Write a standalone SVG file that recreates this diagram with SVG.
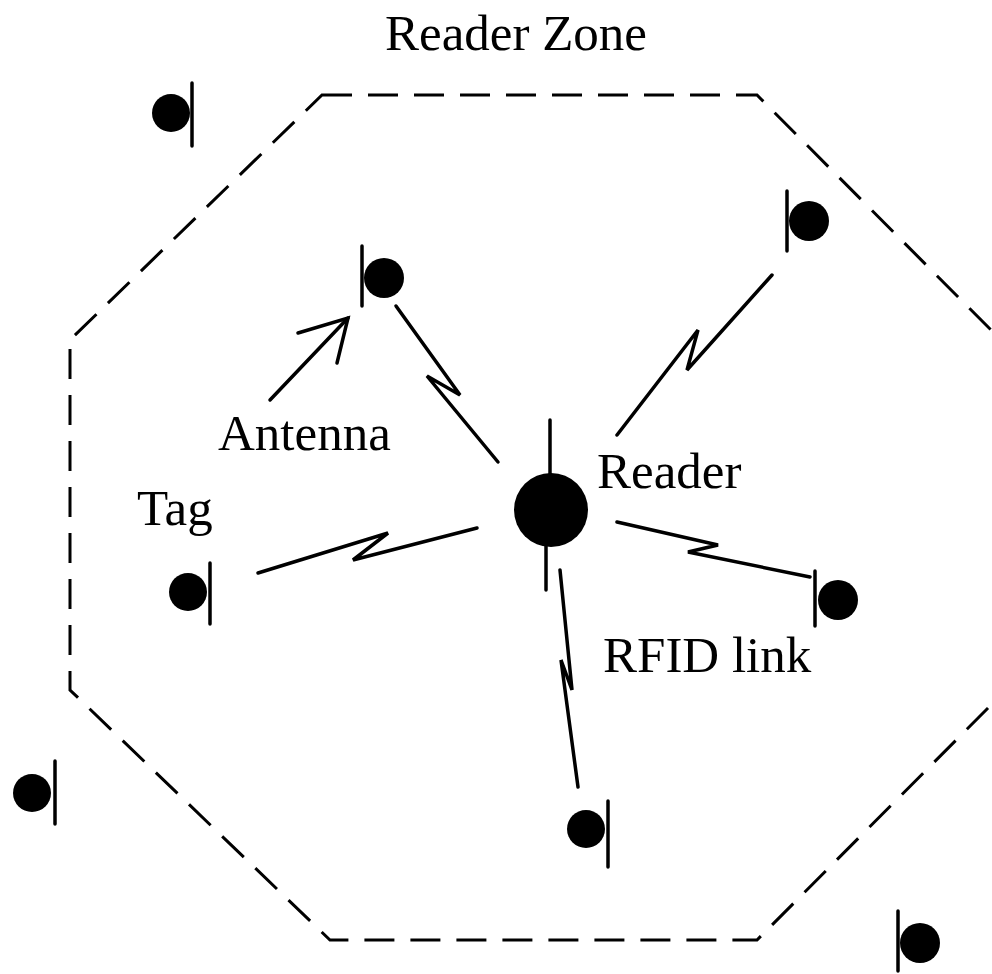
<svg xmlns="http://www.w3.org/2000/svg" width="992" height="974" viewBox="0 0 992 974">
  <style>
    .zone { fill: none; stroke: #000; stroke-width: 3; stroke-dasharray: 30 16; }
    .body { fill: #000; }
    .ant { stroke: #000; stroke-width: 3.5; stroke-linecap: round; }
    .link { fill: none; stroke: #000; stroke-width: 3.5; stroke-linejoin: miter; stroke-linecap: round; }
    .lbl { font-family: "Liberation Serif", "Times New Roman", serif; font-size: 51px; fill: #000; }
  </style>
  <rect width="992" height="974" fill="#fff"/>

  <!-- reader coverage area -->
  <g id="zone">
    <polygon class="zone" points="322,95 757,95 996,335 996,700 757,940 330,940 70,690 70,340"/>
    <text class="lbl" x="385" y="50">Reader Zone</text>
  </g>

  <!-- RFID links -->
  <g id="links">
    <polyline class="link" points="396,306 460,395 427,376 498,462"/>
    <polyline class="link" points="617,435 698,330 687,370 772,275"/>
    <polyline class="link" points="258,573 388,533 353,560 477,528"/>
    <polyline class="link" points="617,522 718,545 688,552 810,577"/>
    <polyline class="link" points="560,570 572,690 561,660 578,787"/>
    <!-- pointer to antenna -->
    <polyline class="link" points="270,400 348,318"/>
    <polyline class="link" points="298,333 348,318 337,363"/>
  </g>

  <g id="reader">
    <circle class="body" cx="551" cy="510" r="37"/>
    <line class="ant" x1="550" y1="420" x2="550" y2="475"/>
    <line class="ant" x1="546" y1="545" x2="546" y2="590"/>
    <text class="lbl" x="597" y="488">Reader</text>
  </g>

  <g id="tag1"><circle class="body" cx="171" cy="113" r="19"/><line class="ant" x1="192" y1="83" x2="192" y2="146"/></g>
  <g id="tag2"><circle class="body" cx="384" cy="278" r="20"/><line class="ant" x1="362" y1="246" x2="362" y2="306"/></g>
  <g id="tag3"><circle class="body" cx="809" cy="221" r="20"/><line class="ant" x1="787" y1="191" x2="787" y2="251"/></g>
  <g id="tag4"><circle class="body" cx="188" cy="592" r="19"/><line class="ant" x1="210" y1="563" x2="210" y2="624"/></g>
  <g id="tag5"><circle class="body" cx="838" cy="600" r="20"/><line class="ant" x1="815" y1="571" x2="815" y2="626"/></g>
  <g id="tag6"><circle class="body" cx="586" cy="829" r="19"/><line class="ant" x1="608" y1="801" x2="608" y2="867"/></g>
  <g id="tag7"><circle class="body" cx="32" cy="793" r="19"/><line class="ant" x1="55" y1="761" x2="55" y2="824"/></g>
  <g id="tag8"><circle class="body" cx="920" cy="943" r="20"/><line class="ant" x1="898" y1="911" x2="898" y2="971"/></g>

  <g id="labels">
    <text class="lbl" x="218" y="450">Antenna</text>
    <text class="lbl" x="137" y="525">Tag</text>
    <text class="lbl" x="603" y="672">RFID link</text>
  </g>
</svg>
